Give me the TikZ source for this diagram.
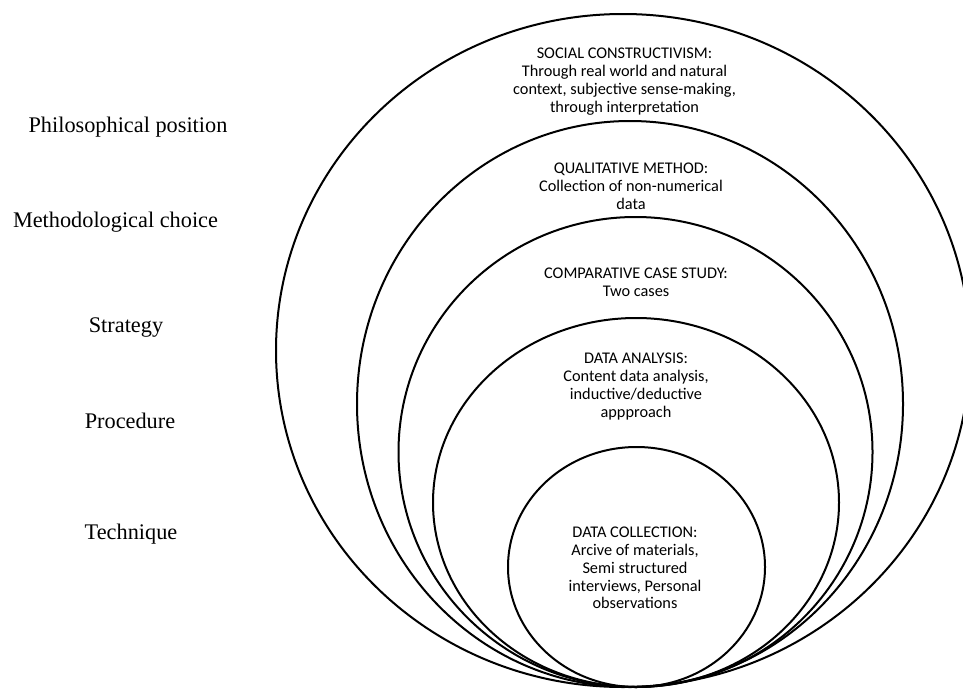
\documentclass[tikz,border=0pt]{standalone}
\usepackage{fontspec}
\setmainfont{Liberation Serif}
\newfontfamily\ringfont{Carlito}
\begin{document}
\begin{tikzpicture}[x=1pt,y=-1pt,
  ring/.style={line width=2pt},
  levelname/.style={font=\fontsize{22.3}{26}\selectfont, anchor=base, inner sep=0pt},
  ringtext/.style={font=\ringfont\fontsize{16.3}{17.8}\selectfont, align=center, anchor=north, inner sep=0pt}]
\useasboundingbox (0,0) rectangle (963,688);

% nested rings, all touching at the bottom
\draw[ring] (623,350.5) ellipse [x radius=347, y radius=336.5];
\draw[ring] (630,404) ellipse [x radius=273, y radius=283];
\draw[ring] (635.5,452) ellipse [x radius=237, y radius=235];
\draw[ring] (636,502.5) ellipse [x radius=203, y radius=184.5];
\draw[ring] (636.5,567) ellipse [x radius=128.5, y radius=120];

% contents of each ring
\node[ringtext] (philo) at (624.5,48) {SOCIAL CONSTRUCTIVISM:\\Through real world and natural\\context, subjective sense-making,\\through interpretation};
\node[ringtext] (method) at (631,163) {QUALITATIVE METHOD:\\Collection of non-numerical\\data};
\node[ringtext] (strat) at (636,268) {COMPARATIVE CASE STUDY:\\Two cases};
\node[ringtext] (proc) at (636,353) {DATA ANALYSIS:\\Content data analysis,\\inductive/deductive\\appproach};
\node[ringtext] (tech) at (635,527) {DATA COLLECTION:\\Arcive of materials,\\Semi structured\\interviews, Personal\\observations};

% level names on the left
\node[levelname] (lphilo) at (128,132) {Philosophical position};
\node[levelname] (lmethod) at (115.5,227) {Methodological choice};
\node[levelname] (lstrat) at (126,332) {Strategy};
\node[levelname] (lproc) at (130,428) {Procedure};
\node[levelname] (ltech) at (131,539) {Technique};
\end{tikzpicture}
\end{document}
